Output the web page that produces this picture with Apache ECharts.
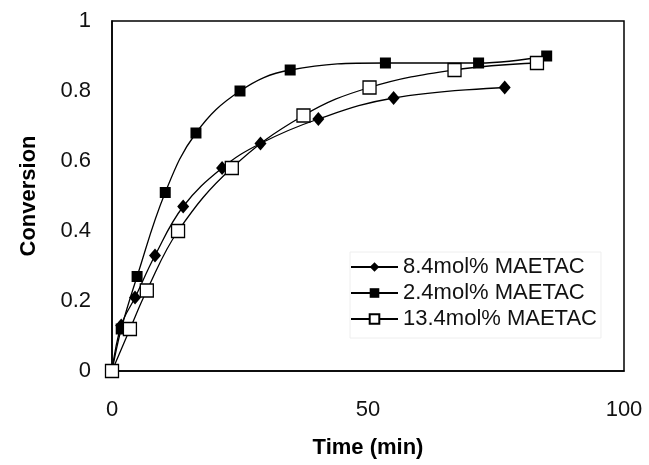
<!DOCTYPE html>
<html>
<head>
<meta charset="utf-8">
<title>Conversion vs time</title>
<script src="https://cdn.jsdelivr.net/npm/echarts@6/dist/echarts.min.js"></script>
<style>
  html, body { margin: 0; padding: 0; background: #fff; }
</style>
</head>
<body>
<div id="main" style="width: 649px; height: 465px;"></div>
<script type="text/javascript">
// data: [time (min), conversion]
var s84 = [[0, 0], [1.8, 0.13], [4.5, 0.21], [8.4, 0.33], [13.9, 0.47], [21.5, 0.58], [29, 0.65], [40.3, 0.72], [55, 0.78], [76.7, 0.81]];
var s24 = [[0, 0], [1.8, 0.12], [4.9, 0.27], [10.4, 0.51], [16.4, 0.68], [25, 0.80], [34.8, 0.86], [53.4, 0.88], [71.6, 0.88], [84.9, 0.90]];
var s134 = [[0, 0], [3.5, 0.12], [6.8, 0.23], [12.9, 0.40], [23.4, 0.58], [37.4, 0.73], [50.3, 0.81], [66.9, 0.86], [83, 0.88]];
var seriesNames = ['8.4mol% MAETAC', '2.4mol% MAETAC', '13.4mol% MAETAC'];

var font = 'Liberation Sans, Arial, sans-serif';
var myChart = echarts.init(document.getElementById('main'));

function lineSeries(name, data, symbol, size, fill) {
  return {
    name: name,
    type: 'line',
    data: data,
    smooth: 0.4,
    symbol: symbol,
    symbolSize: size,
    showAllSymbol: true,
    lineStyle: { color: '#000', width: 1.3 },
    itemStyle: { color: fill, borderColor: '#000', borderWidth: fill === '#fff' ? 1.3 : 0 },
    emphasis: { disabled: true }
  };
}

var option = {
  backgroundColor: '#fff',
  animation: false,
  textStyle: { fontFamily: font },
  grid: { left: 112, right: 25, top: 21, bottom: 94, show: true, borderColor: '#000', borderWidth: 1.5 },
  legend: {
    orient: 'vertical',
    left: 350,
    top: 252,
    itemWidth: 47,
    itemHeight: 12,
    itemGap: 4,
    data: seriesNames,
    textStyle: { fontSize: 22, color: '#111', fontFamily: font, lineHeight: 22 },
    borderColor: '#eee',
    borderWidth: 1,
    padding: [4, 4, 8, 0]
  },
  xAxis: {
    type: 'value',
    min: 0, max: 100, interval: 50,
    name: 'Time (min)',
    nameLocation: 'middle',
    nameGap: 66,
    nameTextStyle: { fontSize: 22, fontWeight: 'bold', color: '#000', fontFamily: font },
    axisLine: { show: true, onZero: false, lineStyle: { color: '#000', width: 1.5 } },
    axisTick: { show: false },
    splitLine: { show: false },
    axisLabel: { fontSize: 22, color: '#111', margin: 28, fontFamily: font }
  },
  yAxis: {
    type: 'value',
    min: 0, max: 1, interval: 0.2,
    name: 'Conversion',
    nameLocation: 'middle',
    nameGap: 72,
    nameTextStyle: { fontSize: 22, fontWeight: 'bold', color: '#000', fontFamily: font },
    axisLine: { show: true, lineStyle: { color: '#000', width: 1.5 } },
    axisTick: { show: false },
    splitLine: { show: false },
    axisLabel: { fontSize: 22, color: '#111', margin: 21, fontFamily: font }
  },
  series: [
    lineSeries(seriesNames[0], s84, 'diamond', [12, 14], '#000'),
    lineSeries(seriesNames[1], s24, 'rect', 11, '#000'),
    lineSeries(seriesNames[2], s134, 'rect', 13, '#fff')
  ]
};

myChart.setOption(option);
</script>
</body>
</html>
